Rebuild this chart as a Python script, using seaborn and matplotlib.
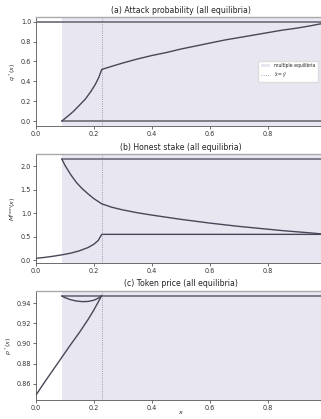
import matplotlib
matplotlib.use("Agg")
import matplotlib.pyplot as plt
import seaborn as sns
from matplotlib.patches import Patch
from matplotlib.lines import Line2D

sns.set_style("ticks")
plt.rcParams['font.family'] = ['DejaVu Sans']

# ---- data ----
x_low = 0.089      # start of multiple-equilibria region
x_thr = 0.227      # threshold (dotted line)
x_end = 0.985

# (a) attack probability
qa_top_x = [0.0, x_end]
qa_top_y = [1.0, 1.0]
qa_bot_x = [x_low, x_end]
qa_bot_y = [0.0, 0.0]
qa_mid_x = [0.089, 0.11, 0.13, 0.15, 0.17, 0.19, 0.205, 0.217, 0.227,
            0.26, 0.3, 0.35, 0.4, 0.45, 0.5, 0.55, 0.6, 0.65, 0.7, 0.75,
            0.8, 0.85, 0.9, 0.95, 0.985]
qa_mid_y = [0.0, 0.05, 0.10, 0.16, 0.22, 0.30, 0.37, 0.44, 0.52,
            0.55, 0.585, 0.625, 0.66, 0.69, 0.725, 0.755, 0.785, 0.815, 0.84, 0.865,
            0.89, 0.915, 0.935, 0.96, 0.98]

# (b) honest stake
mb_top_x = [x_low, x_end]
mb_top_y = [2.155, 2.155]
mb_dec_x = [0.089, 0.10, 0.12, 0.14, 0.16, 0.18, 0.20, 0.227,
            0.26, 0.3, 0.35, 0.4, 0.45, 0.5, 0.55, 0.6, 0.65, 0.7, 0.75,
            0.8, 0.85, 0.9, 0.95, 0.985]
mb_dec_y = [2.155, 2.02, 1.82, 1.65, 1.52, 1.41, 1.31, 1.20,
            1.13, 1.07, 1.01, 0.96, 0.915, 0.87, 0.83, 0.79, 0.755, 0.72, 0.69,
            0.66, 0.63, 0.605, 0.58, 0.56]
mb_low_x = [0.0, 0.03, 0.06, 0.09, 0.12, 0.15, 0.18, 0.20, 0.215, 0.227, x_end]
mb_low_y = [0.04, 0.06, 0.085, 0.115, 0.15, 0.2, 0.27, 0.34, 0.42, 0.55, 0.55]

# (c) token price
pc_top_x = [x_low, x_end]
pc_top_y = [0.9477, 0.9477]
pc_arc_x = [0.089, 0.10, 0.12, 0.14, 0.16, 0.18, 0.20, 0.215, 0.227]
pc_arc_y = [0.9475, 0.9458, 0.9437, 0.9424, 0.9418, 0.9420, 0.9432, 0.9452, 0.9478]
pc_low_x = [0.0, 0.03, 0.06, 0.09, 0.12, 0.15, 0.18, 0.20, 0.227]
pc_low_y = [0.8485, 0.8615, 0.874, 0.8865, 0.899, 0.911, 0.924, 0.9335, 0.9478]

titles = ["(a) Attack probability (all equilibria)",
          "(b) Honest stake (all equilibria)",
          "(c) Token price (all equilibria)"]
ylabels = [r"$q^*(x)$", r"$M^{\rm hon}(x)$", r"$p^*(x)$"]
yticks = [[0.0, 0.2, 0.4, 0.6, 0.8, 1.0],
          [0.0, 0.5, 1.0, 1.5, 2.0],
          [0.86, 0.88, 0.90, 0.92, 0.94]]
xticks = [0.0, 0.2, 0.4, 0.6, 0.8]

fig = plt.figure(figsize=(3.21, 4.19), dpi=100)
left, width = 0.1121, 0.9019
bottoms = [0.699, 0.3716, 0.0453]
height = 0.261

shade = '#e8e6f1'
curve_col = '#4a4658'
flat_col = '#77727f'

series = [
    [(qa_top_x, qa_top_y, True), (qa_bot_x, qa_bot_y, True), (qa_mid_x, qa_mid_y, False)],
    [(mb_top_x, mb_top_y, True), (mb_dec_x, mb_dec_y, False), (mb_low_x, mb_low_y, False)],
    [(pc_top_x, pc_top_y, True), (pc_arc_x, pc_arc_y, False), (pc_low_x, pc_low_y, False)],
]

axes = []
for i in range(3):
    ax = fig.add_axes([left, bottoms[i], width, height])
    axes.append(ax)
    ax.axvspan(x_low, 1.0, color=shade, lw=0, zorder=0)
    ax.axvline(x_thr, color='#8a8794', ls=':', lw=0.6, zorder=1)
    for xs, ys, flat in series[i]:
        sns.lineplot(x=xs, y=ys, ax=ax, estimator=None, sort=False,
                     color=flat_col if flat else curve_col,
                     lw=1.3 if flat else 1.0, zorder=3)
    ax.set_xlim(0, 1.0)
    ax.margins(y=0.05)
    ax.set_xticks(xticks)
    ax.set_yticks(yticks[i])
    if i == 2:
        ax.set_yticklabels([f"{v:.2f}" for v in yticks[i]])
    else:
        ax.set_yticklabels([f"{v:.1f}" for v in yticks[i]])
    ax.set_xticklabels([f"{v:.1f}" for v in xticks])
    ax.tick_params(labelsize=4.7, length=2, width=0.5, pad=1.5, colors='#333333')
    ax.set_title(titles[i], fontsize=5.6, pad=3, color='#222222')
    ax.set_ylabel(ylabels[i], fontsize=4.6, labelpad=2, color='#333333')
    for s in ax.spines.values():
        s.set_linewidth(0.6)
        s.set_color('#555555')
    ax.spines['top'].set_color('#aaaaaa')
    ax.spines['top'].set_linewidth(1.0)

axes[2].set_xlabel(r"$x$", fontsize=4.6, va='center')
axes[2].xaxis.set_label_coords(0.5, -0.118)

handles = [Patch(facecolor=shade, edgecolor='none', label='multiple equilibria'),
           Line2D([0], [0], color='#8a8794', ls=':', lw=0.6, label=r"$\bar{x}=\bar{y}$")]
axes[0].legend(handles=handles, loc='center right', bbox_to_anchor=(0.982, 0.5),
               fontsize=3.3, frameon=True, framealpha=1.0, edgecolor='#dddddd',
               fancybox=False, borderpad=0.6, handlelength=2.0)

fig.savefig("out.png", dpi=100)
